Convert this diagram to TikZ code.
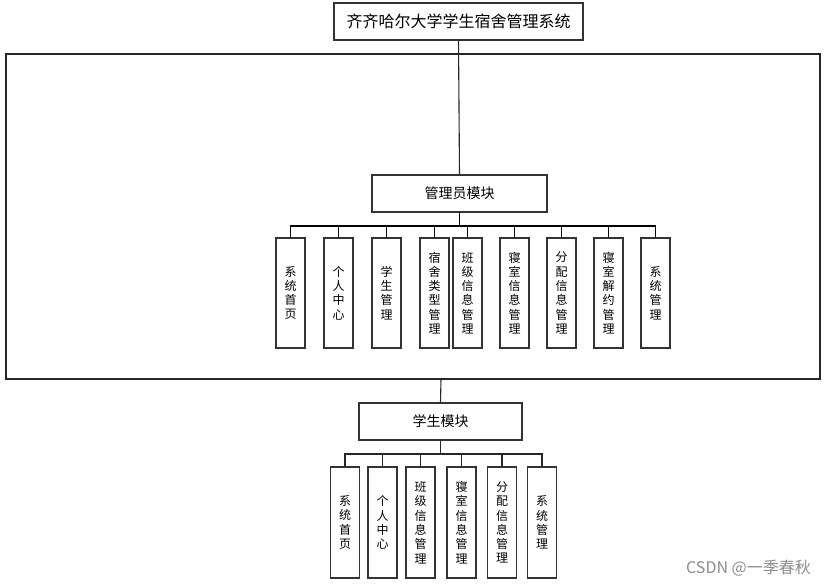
\documentclass[tikz,border=0pt]{standalone}
\usepackage{fontspec}
\newfontfamily\cjk{Noto Sans CJK SC}
\tikzset{
  box/.style={draw=black!80, line width=1.1pt, fill=white, inner sep=0pt, font=\cjk\fontsize{12}{14.3}\selectfont, align=center},
  topbox/.style={box, font=\cjk\fontsize{14}{16}\selectfont},
  vbox/.style={box, minimum width=29pt, minimum height=110pt},
  conn/.style={draw=black!85, line width=1.1pt},
  bus/.style={draw=black, line width=1.6pt}
}
\begin{document}
\begin{tikzpicture}[x=1pt,y=-1pt]
\useasboundingbox (0,0) rectangle (826,586);
% title
\node[topbox, font=\cjk\fontsize{16}{18}\selectfont, minimum width=249pt, minimum height=37pt] (title) at (458.5,21.5) {齐齐哈尔大学学生宿舍管理系统};
% big frame
\draw[conn] (6,54) rectangle (820,379);
\coordinate (fb) at (441,379);
% admin module
\node[topbox, minimum width=175pt, minimum height=37pt] (admin) at (459.5,193.5) {管理员模块};
\draw[conn] (title.south) -- (admin.north);
\coordinate (abus) at (459.5,226);
\draw[bus] (admin.south) -- (abus);
\foreach \n/\x/\t in {a1/290.5/系\\统\\首\\页, a2/338.5/个\\人\\中\\心, a3/386.5/学\\生\\管\\理, a4/434.5/宿\\舍\\类\\型\\管\\理, a5/467.5/班\\级\\信\\息\\管\\理, a6/514.5/寝\\室\\信\\息\\管\\理, a7/561.5/分\\配\\信\\息\\管\\理, a8/608.5/寝\\室\\解\\约\\管\\理, a9/655.5/系\\统\\管\\理}{
  \node[vbox] (\n) at (\x,293) {\t};
}
\foreach \n in {a1,a2,a3,a4,a5,a6,a7,a8,a9}{
  \draw[bus] (abus) -| (\n.north);
}
% student module
\node[topbox, minimum width=163pt, minimum height=37pt] (stu) at (440.5,421.5) {学生模块};
\draw[conn] (fb) -- (stu.north);
\coordinate (sbus) at (440.5,454);
\draw[conn] (stu.south) -- (sbus);
\foreach \n/\x/\t in {s1/345/系\\统\\首\\页, s2/382.5/个\\人\\中\\心, s3/420.5/班\\级\\信\\息\\管\\理, s4/461.5/寝\\室\\信\\息\\管\\理, s5/502/分\\配\\信\\息\\管\\理, s6/542/系\\统\\管\\理}{
  \node[vbox, minimum width=29pt, minimum height=111pt] (\n) at (\x,522.5) {\t};
}
\foreach \n in {s1,s2,s3,s4,s5,s6}{
  \draw[conn] (sbus) -| (\n.north);
}
% watermark
\node[anchor=east, text=black!45, font=\cjk\fontsize{16}{18}\selectfont, inner sep=0pt] (wm) at (811,568) {CSDN @一季春秋};
\end{tikzpicture}
\end{document}
